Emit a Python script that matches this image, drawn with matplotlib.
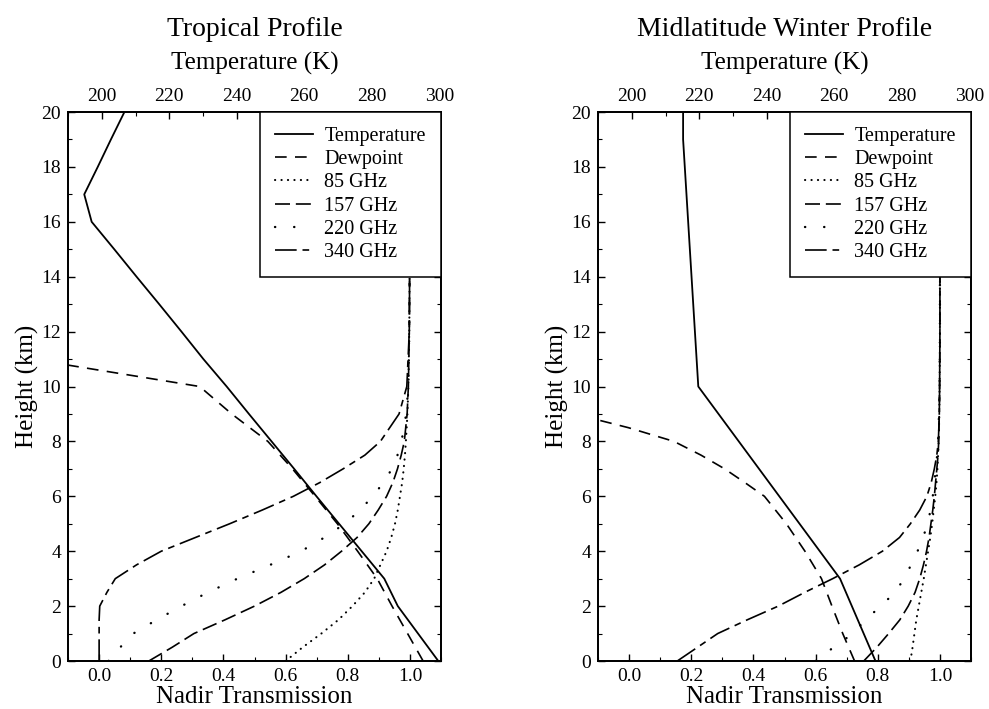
import numpy as np
import matplotlib.pyplot as plt
from matplotlib.ticker import FormatStrFormatter, MultipleLocator

plt.rcParams['font.family'] = ['Liberation Serif', 'DejaVu Serif']

# temperature profiles (K) at 1 km steps, 0-20 km
temp_heights = list(range(21))
trop_temp = [299.7, 293.7, 287.7, 283.7, 277.0, 270.3, 263.6, 257.0, 250.3, 243.6, 237.0,
             230.1, 223.6, 217.0, 210.3, 203.7, 197.0, 194.8, 198.8, 202.7, 206.7]
mlw_temp = [272.2, 268.7, 265.2, 261.7, 255.7, 249.7, 243.7, 237.7, 231.7, 225.7, 219.7,
            219.2, 218.7, 218.2, 217.7, 217.2, 216.7, 216.2, 215.7, 215.2, 215.2]

# dewpoint (K)
trop_dew_heights = [0, 1, 2, 3, 4, 5, 6, 7, 8, 9, 10, 11]
trop_dew = [295.2, 290.6, 286.0, 281.6, 275.8, 269.8, 263.2, 256.5, 249.2, 238.5, 229.0, 179.0]
mlw_dew_heights = [0, 1, 2, 3, 4, 5, 6, 6.5, 7, 7.5, 8, 8.5, 9]
mlw_dew = [266.0, 262.5, 259.3, 256.2, 251.3, 245.8, 239.3, 233.5, 227.5, 220.5, 212.5, 199.0, 183.0]

# nadir transmission from height to top of atmosphere
trans_heights = [0, 0.5, 1, 1.5, 2, 2.5, 3, 3.5, 4, 4.5, 5, 5.5, 6, 6.5, 7, 7.5, 8, 9, 10, 12, 14]
trop_85 = [0.60, 0.655, 0.715, 0.77, 0.815, 0.855, 0.885, 0.905, 0.925, 0.94, 0.952, 0.961,
           0.968, 0.975, 0.98, 0.984, 0.987, 0.992, 0.995, 0.998, 0.999]
trop_157 = [0.16, 0.235, 0.305, 0.405, 0.50, 0.585, 0.66, 0.725, 0.78, 0.83, 0.868, 0.898,
            0.925, 0.945, 0.96, 0.972, 0.982, 0.991, 0.995, 0.998, 0.999]
trop_220 = [0.03, 0.068, 0.11, 0.185, 0.265, 0.35, 0.445, 0.55, 0.65, 0.725, 0.79, 0.84,
            0.88, 0.915, 0.942, 0.96, 0.973, 0.988, 0.995, 0.998, 0.999]
trop_340 = [0.0, 0.0, 0.0, 0.0, 0.002, 0.025, 0.052, 0.12, 0.20, 0.31, 0.42, 0.525,
            0.625, 0.71, 0.785, 0.855, 0.905, 0.965, 0.99, 0.998, 0.999]
mlw_85 = [0.905, 0.912, 0.918, 0.924, 0.932, 0.94, 0.948, 0.955, 0.962, 0.969, 0.975, 0.98,
          0.985, 0.989, 0.992, 0.994, 0.996, 0.998, 0.999, 1.0, 1.0]
mlw_157 = [0.755, 0.797, 0.835, 0.871, 0.898, 0.92, 0.935, 0.947, 0.957, 0.965, 0.971, 0.977,
           0.982, 0.986, 0.99, 0.994, 0.996, 0.998, 0.999, 1.0, 1.0]
mlw_220 = [0.60, 0.658, 0.72, 0.76, 0.81, 0.855, 0.885, 0.907, 0.928, 0.946, 0.96, 0.97,
           0.977, 0.982, 0.987, 0.991, 0.994, 0.997, 0.999, 1.0, 1.0]
mlw_340 = [0.155, 0.22, 0.285, 0.38, 0.48, 0.565, 0.655, 0.74, 0.815, 0.87, 0.905, 0.935,
           0.958, 0.972, 0.982, 0.99, 0.995, 0.998, 0.999, 1.0, 1.0]

channels = ['85 GHz', '157 GHz', '220 GHz', '340 GHz']
styles = [(0, (0.1, 3)), (0, (9, 3.5)), (0, (0.1, 8)), (0, (13, 3.5, 4, 3.5))]
widths = [1.5, 1.2, 1.7, 1.2]


def draw_panel(ax, title, temp, dew_h, dew, trans):
    for vals, name, ls, lw in zip(trans, channels, styles, widths):
        cap = 'round' if lw > 1.4 else 'butt'
        ax.plot(vals, trans_heights, color='k', lw=lw, ls=ls,
                dash_capstyle=cap, label=name)
    ax.set_xlim(-0.1, 1.1)
    ax.set_ylim(0, 20)
    ax.set_xticks([0.0, 0.2, 0.4, 0.6, 0.8, 1.0])
    ax.xaxis.set_minor_locator(MultipleLocator(0.1))
    ax.xaxis.set_major_formatter(FormatStrFormatter('%.1f'))
    ax.yaxis.set_major_locator(MultipleLocator(2))
    ax.yaxis.set_minor_locator(MultipleLocator(1))
    ax.tick_params(which='both', direction='in', right=True, labelsize=14, pad=5)
    ax.tick_params(which='major', length=5, width=1)
    ax.tick_params(which='minor', length=3, width=0.8)
    ax.set_xlabel('Nadir Transmission', fontsize=18, labelpad=1)
    ax.set_ylabel('Height (km)', fontsize=18, labelpad=2)

    axt = ax.twiny()
    axt.plot(temp, temp_heights, color='k', lw=1.3, label='Temperature')
    axt.plot(dew, dew_h, color='k', lw=1.2, ls=(0, (7, 5)), label='Dewpoint')
    axt.set_xlim(190, 300.5)
    axt.set_ylim(0, 20)
    axt.xaxis.set_major_locator(MultipleLocator(20))
    axt.xaxis.set_minor_locator(MultipleLocator(10))
    axt.tick_params(which='both', direction='in', labelsize=14, pad=5)
    axt.tick_params(which='major', length=5, width=1)
    axt.tick_params(which='minor', length=3, width=0.8)
    axt.set_xlabel('Temperature (K)', fontsize=18, labelpad=13)
    for a in (ax, axt):
        for s in a.spines.values():
            s.set_linewidth(1.3)

    h1, l1 = axt.get_legend_handles_labels()
    h2, l2 = ax.get_legend_handles_labels()
    leg = axt.legend(h1 + h2, l1 + l2, loc='upper right', fontsize=14.5,
                     borderaxespad=0, fancybox=False, framealpha=1,
                     edgecolor='k', handlelength=1.9, handletextpad=0.55,
                     borderpad=0.75, labelspacing=0.2)
    leg.get_frame().set_linewidth(1.1)
    ax.set_title(title, fontsize=20, pad=12)


fig = plt.figure(figsize=(9.89, 7.09), dpi=100)
ax1 = fig.add_axes([0.0688, 0.0677, 0.3771, 0.7743])
ax2 = fig.add_axes([0.6047, 0.0677, 0.3771, 0.7743])

draw_panel(ax1, 'Tropical Profile', trop_temp, trop_dew_heights, trop_dew,
           [trop_85, trop_157, trop_220, trop_340])
draw_panel(ax2, 'Midlatitude Winter Profile', mlw_temp, mlw_dew_heights, mlw_dew,
           [mlw_85, mlw_157, mlw_220, mlw_340])

fig.savefig('out.png', dpi=100)
